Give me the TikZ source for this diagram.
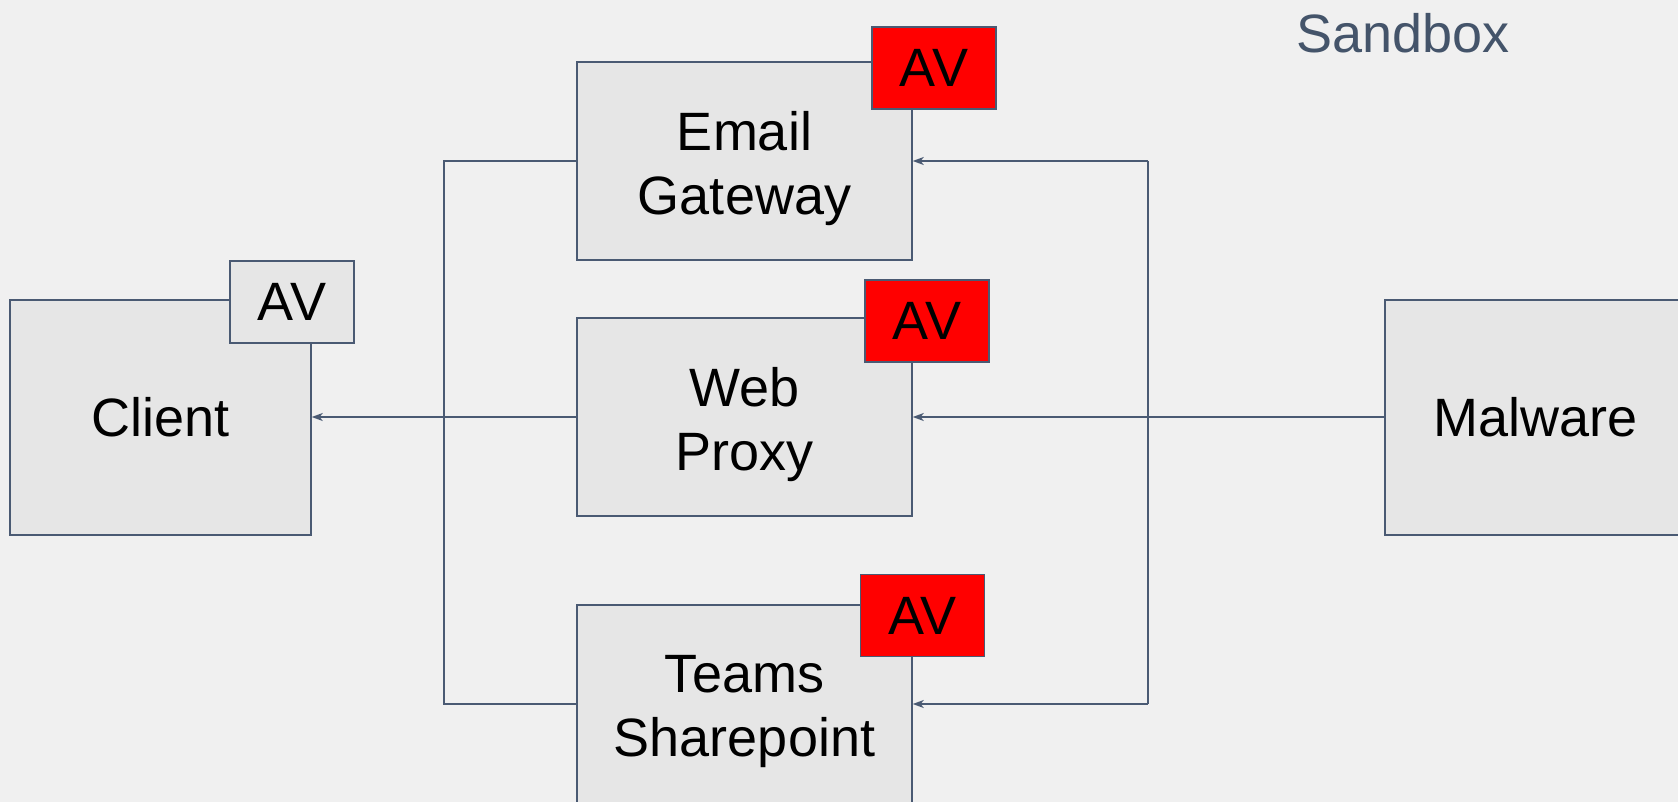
\documentclass[tikz,border=0pt]{standalone}
\usepackage{fontspec}
\setmainfont{Liberation Sans}
\usetikzlibrary{arrows.meta}
\definecolor{bg}{RGB}{240,240,240}
\definecolor{boxfill}{RGB}{230,230,230}
\definecolor{edge}{RGB}{74,90,115}
\definecolor{slate}{RGB}{68,84,106}
\definecolor{avred}{RGB}{255,0,0}
\begin{document}
\begin{tikzpicture}[x=1pt,y=-1pt,
  box/.style={draw=edge, line width=1.5pt, fill=boxfill, inner sep=0pt, align=center,
    font=\fontsize{54}{64}\selectfont},
  bigbox/.style={box, minimum width=335pt, minimum height=198pt},
  avbox/.style={box, minimum width=124pt, minimum height=82pt},
  avred/.style={avbox, fill=avred},
  lbl/.style={inner sep=0pt, align=center, font=\fontsize{54}{64}\selectfont},
  conn/.style={draw=edge, line width=1.5pt},
  arr/.style={conn, -{Stealth[length=11pt,width=8pt,inset=3pt]}}
]
\fill[bg] (0,0) rectangle (1678,802);
\useasboundingbox (0,0) rectangle (1678,802);
\begin{scope}
\clip (0,0) rectangle (1678,802);
\node[box, minimum width=301pt, minimum height=235pt] (client) at (160.5,417.5) {Client};
\node[avbox] (clientav) at (292,302) {AV};
\node[bigbox] (email) at (744.5,161) {};
\node[lbl] (emailtxt) at (744.5,169) {Email\\Gateway};
\node[avred] (emailav) at (934,68) {AV};
\node[bigbox] (web) at (744.5,417) {};
\node[lbl] (webtxt) at (744.5,425) {Web\\Proxy};
\node[avred] (webav) at (927,321) {AV};
\node[bigbox] (teams) at (744.5,704) {};
\node[lbl] (teamstxt) at (744.5,712) {Teams\\Sharepoint};
\node[avred] (teamsav) at (922.5,615.5) {AV};
\node[box, minimum width=301pt, minimum height=235pt] (malware) at (1535.5,417.5) {Malware};
\end{scope}
\node[anchor=base west, inner sep=0pt, text=slate, font=\fontsize{54}{64}\selectfont] (sandbox) at (1296,53) {Sandbox};
\coordinate (L) at (444,0);
\coordinate (R) at (1148,0);
\draw[conn] (email.west) -- (email.west -| L) -- (teams.west -| L) -- (teams.west);
\draw[arr] (web.west) -- (web.west -| client.east);
\draw[conn] (email.east -| R) -- (teams.east -| R);
\draw[arr] (email.east -| R) -- (email.east);
\draw[arr] (teams.east -| R) -- (teams.east);
\draw[arr] (malware.west |- web.east) -- (web.east);
\end{tikzpicture}
\end{document}
